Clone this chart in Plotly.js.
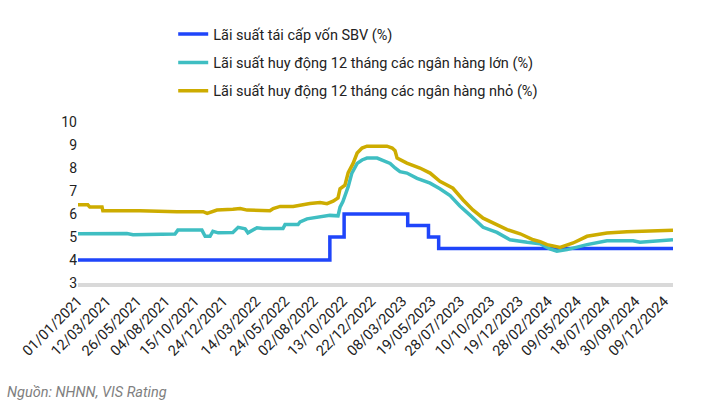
<!DOCTYPE html>
<html>
<head>
<meta charset="utf-8">
<script src="https://cdn.plot.ly/plotly-3.0.1.min.js"></script>
<style>html,body{margin:0;padding:0;background:#fff;}#chart{width:704px;height:412px;}</style>
</head>
<body>
<div id="chart"></div>
<script>
// SBV refinancing rate (step series)
const sbvDates = ["2021-01-01","2022-09-11","2022-10-16","2023-03-21","2023-05-11","2023-06-05","2024-12-31"];
const sbvValues = [4.0, 5.0, 6.0, 5.5, 5.0, 4.5, 4.5];

// 12-month deposit rate, large banks
const bigDates = ["2021-01-01","2021-05-01","2021-05-16","2021-07-14","2021-07-21","2021-08-27","2021-09-03","2021-11-01","2021-11-09","2021-11-21","2021-11-28","2021-12-11","2022-01-16","2022-01-29","2022-02-15","2022-02-22","2022-03-16","2022-03-31","2022-05-19","2022-05-24","2022-06-25","2022-06-30","2022-07-17","2022-08-18","2022-09-11","2022-10-01","2022-10-06","2022-10-13","2022-10-26","2022-11-04","2022-11-17","2022-11-29","2022-12-11","2023-01-05","2023-01-19","2023-02-06","2023-02-18","2023-03-02","2023-03-19","2023-04-13","2023-05-15","2023-06-08","2023-07-03","2023-07-27","2023-08-21","2023-09-14","2023-09-22","2023-10-26","2023-11-27","2024-01-08","2024-02-09","2024-03-04","2024-03-21","2024-04-15","2024-06-03","2024-07-22","2024-09-24","2024-10-11","2024-11-12","2024-12-31"];
const bigValues = [5.14,5.15,5.10,5.10,5.13,5.13,5.30,5.30,5.03,5.03,5.25,5.18,5.20,5.42,5.36,5.18,5.40,5.37,5.37,5.54,5.54,5.66,5.79,5.87,5.94,5.92,6.30,6.54,7.19,7.78,8.20,8.35,8.43,8.43,8.32,8.20,8.00,7.84,7.78,7.55,7.34,7.10,6.80,6.35,5.95,5.55,5.42,5.20,4.88,4.77,4.71,4.48,4.38,4.45,4.67,4.84,4.84,4.77,4.82,4.88];

// 12-month deposit rate, small banks
const smallDates = ["2021-01-01","2021-01-25","2021-01-30","2021-03-01","2021-03-03","2021-06-02","2021-09-01","2021-11-04","2021-11-14","2021-12-08","2022-01-16","2022-02-03","2022-02-20","2022-04-17","2022-04-25","2022-05-12","2022-06-13","2022-06-30","2022-07-24","2022-08-18","2022-09-04","2022-09-19","2022-10-01","2022-10-06","2022-10-18","2022-10-26","2022-11-07","2022-11-17","2022-11-29","2022-12-11","2023-01-29","2023-02-11","2023-02-18","2023-02-23","2023-03-19","2023-04-20","2023-05-15","2023-06-08","2023-07-10","2023-08-04","2023-08-28","2023-09-22","2023-10-16","2023-11-20","2023-12-22","2024-01-23","2024-02-09","2024-02-26","2024-03-29","2024-04-30","2024-06-03","2024-07-22","2024-09-09","2024-11-12","2024-12-31"];
const smallValues = [6.40,6.40,6.30,6.30,6.14,6.14,6.10,6.10,6.03,6.17,6.21,6.24,6.17,6.14,6.24,6.33,6.33,6.40,6.46,6.50,6.45,6.56,6.70,7.10,7.25,7.80,8.20,8.65,8.87,8.95,8.95,8.87,8.75,8.43,8.21,8.00,7.78,7.42,7.12,6.61,6.18,5.82,5.60,5.32,5.14,4.88,4.80,4.67,4.55,4.74,5.03,5.17,5.23,5.25,5.29];

const tickDates = ["2021-01-01","2021-03-12","2021-05-26","2021-08-04","2021-10-15","2021-12-24","2022-03-14","2022-05-24","2022-08-02","2022-10-13","2022-12-22","2023-03-08","2023-05-19","2023-07-28","2023-10-10","2023-12-19","2024-02-28","2024-05-09","2024-07-18","2024-09-30","2024-12-09"];
const tickLabels = ["01/01/2021","12/03/2021","26/05/2021","04/08/2021","15/10/2021","24/12/2021","14/03/2022","24/05/2022","02/08/2022","13/10/2022","22/12/2022","08/03/2023","19/05/2023","28/07/2023","10/10/2023","19/12/2023","28/02/2024","09/05/2024","18/07/2024","30/09/2024","09/12/2024"];

const seriesNames = ["Lãi suất tái cấp vốn SBV (%)","Lãi suất huy động 12 tháng các ngân hàng lớn (%)","Lãi suất huy động 12 tháng các ngân hàng nhỏ (%)"];

const traces = [
  {x: sbvDates, y: sbvValues, name: seriesNames[0], legendgroup: "a", mode: "lines", line: {color: "#1F45FA", width: 3.5, shape: "hv"}},
  {x: bigDates, y: bigValues, name: seriesNames[1], legendgroup: "b", mode: "lines", line: {color: "#3FBEC2", width: 3.5}},
  {x: smallDates, y: smallValues, name: seriesNames[2], legendgroup: "c", mode: "lines", line: {color: "#CDAC00", width: 3.5}}
];

const layout = {
  width: 704, height: 412,
  margin: {l: 78, r: 31, t: 122, b: 128.5, autoexpand: false},
  paper_bgcolor: "#fff", plot_bgcolor: "#fff",
  font: {family: "Roboto, Arial, sans-serif", size: 14, color: "#222"},
  showlegend: true,
  legend: {x: 0.16, xanchor: "left", y: 1.645, yanchor: "top", traceorder: "grouped", tracegroupgap: 6.5,
           font: {size: 14.5, color: "#222"}, bgcolor: "rgba(0,0,0,0)"},
  xaxis: {type: "date", range: ["2021-01-01","2024-12-31"], tickvals: tickDates, ticktext: tickLabels,
          tickangle: -45, tickfont: {size: 14.5, color: "#222"}, showgrid: false, zeroline: false,
          showline: true, linecolor: "#D9D9D9", linewidth: 4, ticks: "", fixedrange: true},
  yaxis: {range: [3, 10], dtick: 1, tick0: 3, showgrid: false, zeroline: false, showline: false,
          ticks: "", tickfont: {size: 14, color: "#222"}, fixedrange: true},
  annotations: [{text: "<i>Nguồn: NHNN, VIS Rating</i>", xref: "paper", yref: "paper", x: -0.1227, xanchor: "left",
                 y: -0.678, yanchor: "middle", showarrow: false,
                 font: {size: 14.5, color: "#7F7F7F", family: "Roboto, Arial, sans-serif"}}]
};

Plotly.newPlot("chart", traces, layout, {displayModeBar: false, staticPlot: true});
</script>
</body>
</html>
